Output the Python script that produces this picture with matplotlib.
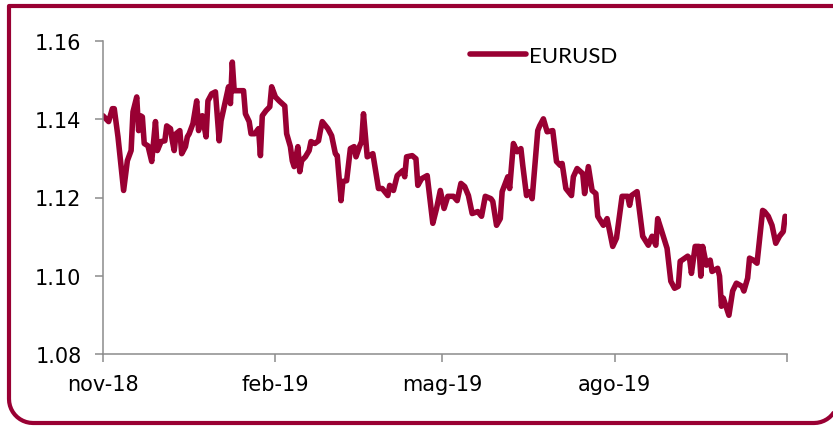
import numpy as np
import pandas as pd
import matplotlib.pyplot as plt
from matplotlib.path import Path
from matplotlib.patches import PathPatch

# EURUSD readings: days counted from 2018-11-01 and the rate on that day
start = pd.Timestamp('2018-11-01')
days = [0, 3, 5, 6, 8, 11, 13, 15, 16, 18, 19, 20, 21, 22, 24, 26, 28, 29, 31, 33,
        34, 36, 37, 38, 39, 41, 42, 44, 45, 46, 48, 50, 51, 52, 53, 55, 56, 58, 60, 62,
        63, 65, 67, 68, 69, 70, 73, 75, 76, 78, 79, 81, 83, 84, 85, 87, 89, 90, 92, 94,
        97, 98, 100, 101, 102, 104, 105, 106, 108, 110, 111, 113, 115, 116, 117, 120, 122, 124, 125, 127,
        128, 130, 132, 134, 135, 137, 138, 139, 141, 144, 145, 147, 149, 152, 153, 155, 157, 160, 161, 162,
        165, 167, 168, 170, 173, 176, 178, 180, 182, 184, 187, 189, 191, 193, 195, 197, 200, 202, 204, 207,
        208, 210, 212, 213, 216, 217, 219, 221, 223, 224, 226, 228, 229, 232, 233, 235, 237, 240, 242, 244,
        245, 247, 250, 251, 253, 256, 257, 259, 261, 263, 264, 267, 269, 272, 274, 277, 280, 281, 282, 285,
        288, 291, 293, 295, 296, 298, 301, 303, 305, 307, 308, 309, 312, 313, 314, 316, 318, 319, 320, 322,
        324, 325, 328, 329, 330, 331, 334, 336, 338, 341, 342, 344, 345, 347, 349, 352, 353, 355, 357, 359,
        361, 363, 364]
eurusd = [1.1409, 1.1394, 1.1427, 1.1427, 1.1355, 1.1218, 1.1294, 1.1320, 1.1419, 1.1457,
          1.1371, 1.1409, 1.1406, 1.1338, 1.1332, 1.1292, 1.1394, 1.1320, 1.1343, 1.1345,
          1.1383, 1.1376, 1.1345, 1.1320, 1.1363, 1.1371, 1.1312, 1.1330, 1.1355, 1.1363,
          1.1389, 1.1447, 1.1371, 1.1406, 1.1409, 1.1355, 1.1447, 1.1465, 1.1470, 1.1345,
          1.1396, 1.1440, 1.1483, 1.1440, 1.1546, 1.1473, 1.1473, 1.1473, 1.1414, 1.1394,
          1.1363, 1.1363, 1.1376, 1.1307, 1.1409, 1.1422, 1.1432, 1.1483, 1.1457, 1.1447,
          1.1434, 1.1363, 1.1330, 1.1294, 1.1279, 1.1330, 1.1266, 1.1294, 1.1304, 1.1320,
          1.1343, 1.1338, 1.1345, 1.1371, 1.1394, 1.1376, 1.1358, 1.1312, 1.1307, 1.1192,
          1.1241, 1.1243, 1.1325, 1.1330, 1.1304, 1.1332, 1.1343, 1.1414, 1.1304, 1.1312,
          1.1282, 1.1223, 1.1223, 1.1205, 1.1231, 1.1218, 1.1256, 1.1269, 1.1253, 1.1304,
          1.1307, 1.1299, 1.1231, 1.1248, 1.1256, 1.1134, 1.1172, 1.1218, 1.1172, 1.1203,
          1.1203, 1.1192, 1.1236, 1.1228, 1.1205, 1.1159, 1.1164, 1.1152, 1.1203, 1.1197,
          1.1190, 1.1129, 1.1146, 1.1215, 1.1253, 1.1223, 1.1338, 1.1317, 1.1325, 1.1282,
          1.1205, 1.1215, 1.1197, 1.1371, 1.1383, 1.1401, 1.1368, 1.1371, 1.1292, 1.1282,
          1.1287, 1.1223, 1.1205, 1.1253, 1.1274, 1.1261, 1.1210, 1.1279, 1.1218, 1.1210,
          1.1152, 1.1129, 1.1146, 1.1075, 1.1096, 1.1203, 1.1203, 1.1180, 1.1205, 1.1215,
          1.1101, 1.1078, 1.1101, 1.1078, 1.1146, 1.1116, 1.1070, 1.0986, 1.0968, 1.0973,
          1.1037, 1.1040, 1.1050, 1.1045, 1.1006, 1.1075, 1.1075, 1.0999, 1.1075, 1.1027,
          1.1040, 1.1011, 1.1019, 1.0999, 1.0922, 1.0943, 1.0899, 1.0961, 1.0981, 1.0973,
          1.0961, 1.0994, 1.1045, 1.1040, 1.1032, 1.1167, 1.1164, 1.1152, 1.1129, 1.1083,
          1.1101, 1.1113, 1.1152]

tick_dates = ['2018-11-01', '2019-02-01', '2019-05-01', '2019-08-01', '2019-11-01']
tick_labels = ['nov-18', 'feb-19', 'mag-19', 'ago-19', '']
y_ticks = [1.08, 1.10, 1.12, 1.14, 1.16]

dates = start + pd.to_timedelta(days, unit='D')
red = '#990033'
grey = '#8c8c8c'

W, H = 833, 427
fig = plt.figure(figsize=(W / 100, H / 100), dpi=100)
ax = fig.add_axes([103 / W, 1 - 355 / H, (787 - 103) / W, (355 - 42) / H])

ax.plot(dates, eurusd, color=red, lw=4, solid_joinstyle='round',
        solid_capstyle='round', label='EURUSD')

ax.set_xlim(pd.Timestamp(tick_dates[0]), pd.Timestamp(tick_dates[-1]))
ax.set_ylim(1.08, 1.16)
ax.set_xticks(pd.to_datetime(tick_dates))
ax.set_xticklabels(tick_labels)
ax.set_yticks(y_ticks)
ax.set_yticklabels(['%.2f' % v for v in y_ticks])

for side in ['top', 'right']:
    ax.spines[side].set_visible(False)
for side in ['left', 'bottom']:
    ax.spines[side].set_color(grey)
    ax.spines[side].set_linewidth(1.1)
ax.tick_params(axis='both', direction='out', length=5.5, width=1.1, color=grey,
               labelsize=15, labelcolor='black')
ax.tick_params(axis='y', pad=10)
ax.tick_params(axis='x', pad=9)

leg = ax.legend(loc='center left', bbox_to_anchor=(470 / W, 1 - 57 / H),
                bbox_transform=fig.transFigure, frameon=False, borderpad=0,
                borderaxespad=0, handlelength=2.5, handletextpad=0.15,
                prop={'family': ['Lato', 'DejaVu Sans'], 'size': 16})

# rounded frame round the chart (square top-left corner)
r = 24
left, right, top, bottom = 9, 838, 7, 424
a1 = np.linspace(np.pi, 1.5 * np.pi, 12)
a2 = np.linspace(1.5 * np.pi, 2 * np.pi, 12)
xs = [right, left] + list(left + r + r * np.cos(a1)) + list(right - r + r * np.cos(a2)) + [right]
ys = [top, top] + list(bottom - r - r * np.sin(a1)) + list(bottom - r - r * np.sin(a2)) + [top]
verts = [(x / W, 1 - y / H) for x, y in zip(xs, ys)]
frame = PathPatch(Path(verts), transform=fig.transFigure, fill=False,
                  edgecolor=red, lw=3, joinstyle='round', clip_on=False)
fig.add_artist(frame)

fig.savefig('out.png', dpi=100)
plt.close(fig)
